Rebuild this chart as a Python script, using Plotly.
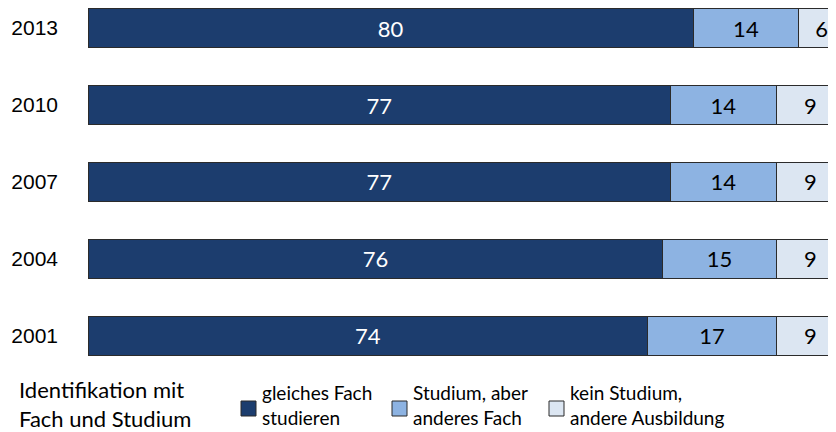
import plotly.graph_objects as go

# data, top to bottom in the picture is 2013 ... 2001
years = ['2001', '2004', '2007', '2010', '2013']
gleiches_fach = [74, 76, 77, 77, 80]
anderes_fach = [17, 15, 14, 14, 14]
kein_studium = [9, 9, 9, 9, 6]

series_names = ['gleiches Fach<br>studieren', 'Studium, aber<br>anderes Fach', 'kein Studium,<br>andere Ausbildung']
series_colors = ['#1c3d6e', '#8db3e2', '#dce6f2']
text_colors = ['white', 'black', 'black']

label_font = 'Lato, Carlito, Calibri, sans-serif'

# the page puts the figure 8px in from the top-left, so the figure is 8px smaller
fig_w, fig_h = 828, 424
left = 80
plot_bottom = 357                                                # figure row where the plot area ends

def py(pix):                                                     # screen row -> paper y
    return (plot_bottom - (pix - 8)) / plot_bottom

def px(pix):                                                     # screen column -> paper x
    return (pix - 8 - left) / (fig_w - left)

fig = go.Figure()
for vals, name, col, tcol in zip([gleiches_fach, anderes_fach, kein_studium], series_names, series_colors, text_colors):
    fig.add_trace(go.Bar(
        y = years, x = vals, orientation = 'h', name = name,
        marker = dict(color = col, line = dict(color = '#2b2b2b', width = 1)),
        text = vals, textposition = 'inside', insidetextanchor = 'middle',
        textfont = dict(family = label_font, size = 22, color = tcol),
        width = 0.5, showlegend = False,
    ))

fig.update_layout(
    width = fig_w, height = fig_h,
    barmode = 'stack',
    margin = dict(l = left, r = 0, t = 0, b = fig_h - plot_bottom),  # bars run off the right edge, as in the original
    plot_bgcolor = 'white', paper_bgcolor = 'white',
    xaxis = dict(range = [0, 98.9], visible = False, automargin = False),
    yaxis = dict(range = [-0.377, 4.26], showgrid = False, showline = False, ticks = '',
                 automargin = False, ticklabelstandoff = 29,
                 tickfont = dict(family = 'Liberation Sans, Arial', size = 21, color = 'black')),
)

# legend drawn by hand: title on the left, then three boxes with two-line labels
fig.add_annotation(
    text = 'Identifikation mit<br>Fach und Studium',
    xref = 'paper', yref = 'paper', x = px(17), y = py(404),
    xanchor = 'left', yanchor = 'middle', align = 'left', showarrow = False,
    font = dict(family = label_font, size = 22, color = 'black'),
)
box_left = [241, 392, 549]                                       # screen columns of the legend boxes
for bx, name, col in zip(box_left, series_names, series_colors):
    fig.add_shape(type = 'rect', xref = 'paper', yref = 'paper',
                  x0 = px(bx), x1 = px(bx + 15), y0 = py(416), y1 = py(401),
                  fillcolor = col, line = dict(color = '#2b2b2b', width = 1))
    fig.add_annotation(
        text = name, xref = 'paper', yref = 'paper',
        x = px(bx + 19), y = py(405),
        xanchor = 'left', yanchor = 'middle', align = 'left', showarrow = False,
        font = dict(family = label_font, size = 19, color = 'black'),
    )

fig.write_html('out.html')
